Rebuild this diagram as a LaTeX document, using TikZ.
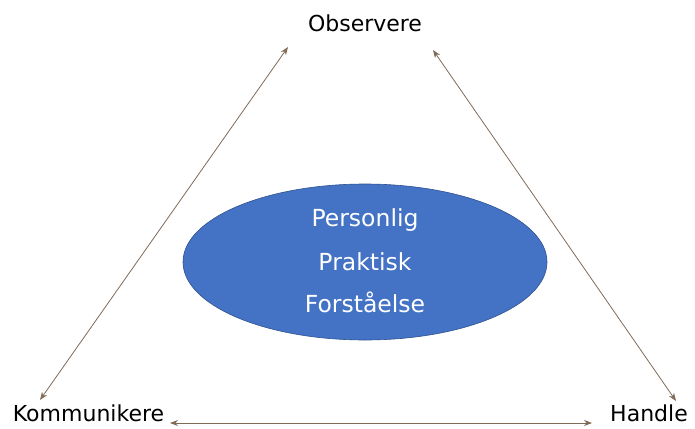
\documentclass[tikz,border=0pt]{standalone}
\usepackage{fontspec}
\setmainfont{DejaVu Sans}
\usetikzlibrary{arrows.meta,shapes.geometric}
\definecolor{arr}{HTML}{7F6A58}
\definecolor{ellfill}{HTML}{4472C4}
\definecolor{elldraw}{HTML}{2F528F}
\begin{document}
\begin{tikzpicture}[x=1pt,y=-1pt,
  lbl/.style={font=\fontsize{22}{26}\selectfont, text=black, inner sep=0pt},
  inner/.style={font=\fontsize{23.5}{27}\selectfont, text=white, inner sep=0pt},
  conn/.style={draw=arr, line width=0.8pt, {Stealth[length=8pt,width=6pt]}-{Stealth[length=8pt,width=6pt]}}]
\useasboundingbox (0,0) rectangle (695,428);
\node[lbl] (obs) at (365,23) {Observere};
\node[lbl] (kom) at (88.5,413) {Kommunikere};
\node[lbl] (han) at (649,413) {Handle};
\node[ellipse, draw=elldraw, fill=ellfill, line width=0.6pt, minimum width=364pt, minimum height=156pt] (ell) at (365,262) {};
\node[inner] (t1) at (365,220) {Personlig};
\node[inner] (t2) at (365,262) {Praktisk};
\node[inner] (t3) at (365,302) {Forståelse};
\coordinate (a1) at (288,47);
\coordinate (a2) at (40,400);
\coordinate (b1) at (433,50);
\coordinate (b2) at (676,401);
\coordinate (c1) at (170,423);
\coordinate (c2) at (592,423);
\draw[conn] (a1) -- (a2);
\draw[conn] (b1) -- (b2);
\draw[conn] (c1) -- (c2);
\end{tikzpicture}
\end{document}
